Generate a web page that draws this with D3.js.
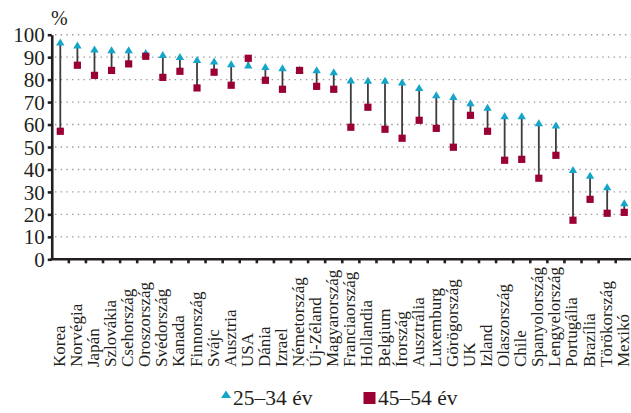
<!DOCTYPE html>
<html>
<head>
<meta charset="utf-8">
<script src="https://cdn.jsdelivr.net/npm/d3@7"></script>
<style>
  html, body { margin: 0; padding: 0; background: #fff; }
  svg { display: block; }
  text { font-family: "Liberation Serif", "DejaVu Serif", serif; fill: #231f20; }
</style>
</head>
<body>
<svg id="chart" width="631" height="413"></svg>
<script>
const countries = ["Korea","Norvégia","Japán","Szlovákia","Csehország","Oroszország","Svédország","Kanada","Finnország","Svájc","Ausztria","USA","Dánia","Izrael","Németország","Új-Zéland","Magyarország","Franciaország","Hollandia","Belgium","Írország","Ausztrália","Luxemburg","Görögország","UK","Izland","Olaszország","Chile","Spanyolország","Lengyelország","Portugália","Brazília","Törökország","Mexikó"];
const young = [96.7,95.4,93.6,93.3,93.3,92.0,91.1,90.2,88.9,88.2,87.0,86.5,85.8,85.2,84.6,84.3,83.5,79.8,79.7,79.7,78.9,76.4,73.2,72.4,69.7,67.7,63.9,63.9,60.8,59.7,39.9,37.4,32.3,25.1];
const older = [57.0,86.4,81.9,84.1,87.0,90.4,81.0,83.7,76.3,83.3,77.5,89.5,79.7,75.7,84.1,77.0,75.7,58.8,67.7,57.9,53.9,61.9,58.3,49.9,64.1,57.0,44.1,44.5,36.1,46.3,17.4,26.7,20.5,20.9];
const yTicks = [0,10,20,30,40,50,60,70,80,90,100];
const legendLabels = ["25–34 év","45–54 év"];
const unitLabel = "%";

const cYoung = "#14a5c9", cOld = "#9b0034", cAxis = "#231f20";

const svg = d3.select("#chart");
const x0 = 51.75, step = 17.09;
const x = d3.scaleBand().domain(countries).range([x0, x0 + step * countries.length]).padding(0);
const y = d3.scaleLinear().domain([0, 100]).range([259.3, 34.7]);

// gridlines
svg.append("g").selectAll("line").data(yTicks.filter(d => d > 0)).join("line")
  .attr("x1", 55).attr("x2", 631)
  .attr("y1", d => y(d)).attr("y2", d => y(d))
  .attr("stroke", "#9a9a9a").attr("stroke-width", 1.4)
  .attr("stroke-dasharray", "1.4,4.3");

// y axis
const yAxis = svg.append("g").attr("transform", `translate(${x0},0)`)
  .call(d3.axisLeft(y).tickValues(yTicks).tickSize(4).tickSizeOuter(0).tickPadding(3).tickFormat(d3.format("d")));
yAxis.select(".domain").attr("stroke", cAxis).attr("stroke-width", 2.6);
yAxis.selectAll(".tick line").attr("stroke", cAxis).attr("stroke-width", 2.6);
yAxis.selectAll(".tick text").attr("font-size", 21).attr("font-family", "Liberation Serif").attr("fill", cAxis).attr("dy", "0.34em");

// x axis
const xAxis = svg.append("g").attr("transform", `translate(0,${y(0)})`)
  .call(d3.axisBottom(x).tickSize(0).tickFormat(""));
xAxis.select(".domain").attr("stroke", cAxis).attr("stroke-width", 2.6).attr("d", `M${x0 - 1.3},0H631`);
xAxis.selectAll(".tick").remove();
svg.append("g").selectAll("line").data(countries.slice(1)).join("line")
  .attr("x1", d => x(d)).attr("x2", d => x(d))
  .attr("y1", y(0)).attr("y2", y(0) + 4)
  .attr("stroke", cAxis).attr("stroke-width", 2.6);

// category labels
svg.append("g").selectAll("text").data(countries).join("text")
  .attr("transform", d => `translate(${x(d) + x.bandwidth() / 2 + 4.5},367) rotate(-90)`)
  .attr("text-anchor", "start")
  .attr("font-size", 17)
  .text(d => d);

// connecting lines
svg.append("g").selectAll("line").data(countries).join("line")
  .attr("x1", d => x(d) + x.bandwidth() / 2).attr("x2", d => x(d) + x.bandwidth() / 2)
  .attr("y1", (d, i) => y(young[i])).attr("y2", (d, i) => y(older[i]))
  .attr("stroke", "#3d3d3d").attr("stroke-width", 1.8);

// triangles
const tri = "M0,-3.6L4.2,3.4L-4.2,3.4Z";
svg.append("g").selectAll("path").data(countries).join("path")
  .attr("d", tri)
  .attr("transform", (d, i) => `translate(${x(d) + x.bandwidth() / 2},${y(young[i])})`)
  .attr("fill", cYoung);

// squares
svg.append("g").selectAll("rect").data(countries).join("rect")
  .attr("x", d => x(d) + x.bandwidth() / 2 - 3.6)
  .attr("y", (d, i) => y(older[i]) - 3.6)
  .attr("width", 7.2).attr("height", 7.2)
  .attr("fill", cOld);

// unit label
svg.append("text").attr("x", 51).attr("y", 25).attr("font-size", 20).text(unitLabel);

// legend
const lg = svg.append("g");
lg.append("path").attr("d", "M0,-4L5,3.5L-5,3.5Z").attr("transform", "translate(226,394.5)").attr("fill", cYoung);
lg.append("text").attr("x", 233).attr("y", 405).attr("font-size", 21.5).text(legendLabels[0]);
lg.append("rect").attr("x", 363.5).attr("y", 392).attr("width", 12).attr("height", 12).attr("fill", cOld);
lg.append("text").attr("x", 378).attr("y", 405).attr("font-size", 21.5).text(legendLabels[1]);
</script>
</body>
</html>
